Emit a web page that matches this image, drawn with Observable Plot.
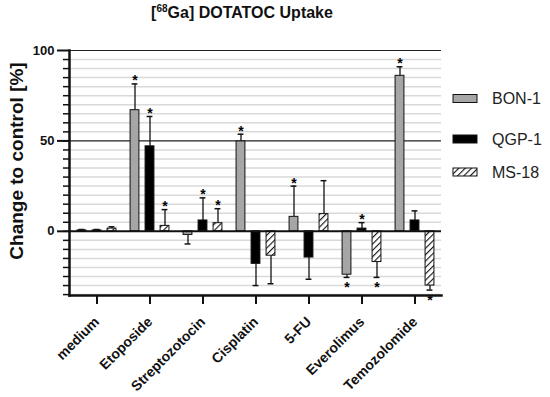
<!DOCTYPE html>
<html><head><meta charset="utf-8">
<script src="https://cdn.jsdelivr.net/npm/d3@7"></script>
<script src="https://cdn.jsdelivr.net/npm/@observablehq/plot@0.6"></script>
<style>
body{margin:0;background:#fff;font-family:"Liberation Sans",Arial,sans-serif;}
#title{height:28px;width:550px;position:relative;}
#title span{position:absolute;left:0;width:484px;text-align:center;top:3px;font-weight:bold;font-size:16px;color:#111;}
#title sup{font-size:10px;}
</style></head><body>
<div id="title"><span>[<sup>68</sup>Ga] DOTATOC Uptake</span></div>
<div id="chart"></div>
<script>
const groups = ["medium","Etoposide","Streptozotocin","Cisplatin","5-FU","Everolimus","Temozolomide"];
const seriesNames = ["BON-1","QGP-1","MS-18"];
const bon    = [0.5, 67, -2, 49.7, 8, -24, 86];
const bonErr = [0.5, 14.5, 5, 4, 17, 1.5, 5];
const bonSig = [0, 1, 0, 1, 1, 1, 1];
const qgp    = [0.5, 47, 6, -18, -14.5, 1.5, 6];
const qgpErr = [0.5, 16.5, 12.5, 12, 12, 3.3, 5.3];
const qgpSig = [0, 1, 1, 0, 0, 1, 0];
const ms     = [1.5, 3, 4.5, -13.5, 9.5, -17, -30];
const msErr  = [1, 9, 8, 15.5, 18.5, 8.5, 2.5];
const msSig  = [0, 1, 1, 0, 0, 1, 1];
const yTicksMajor = [0, 50, 100];

const seriesDefs = [
  {name: seriesNames[0], v: bon, e: bonErr, s: bonSig, fill: "#a6a6a6", dx: -15},
  {name: seriesNames[1], v: qgp, e: qgpErr, s: qgpSig, fill: "#000", dx: 0},
  {name: seriesNames[2], v: ms, e: msErr, s: msSig, fill: "url(#hatch)", dx: 15}
];

const gridVals = d3.range(-35, 100, 5).filter(d => d !== 0 && d !== 50);
const step = (550 - 69 - 109) / groups.length;
const barInset = (step - 9) / 2;
const capInset = (step - 6) / 2;

const marks = [
  Plot.ruleY(gridVals, {stroke: "#d9d9d9", strokeWidth: 1.5}),
  Plot.ruleY([50, 100], {stroke: "#222", strokeWidth: 1.2})
];
for (const s of seriesDefs) {
  const rows = groups.map((g, i) => ({g, v: s.v[i], e: s.e[i], sig: s.s[i], end: s.v[i] + (s.v[i] >= 0 ? 1 : -1) * s.e[i]}));
  marks.push(
    Plot.ruleX(rows, {x: "g", y1: "v", y2: "end", dx: s.dx, stroke: "#111", strokeWidth: 1.3}),
    Plot.tickY(rows, {x: "g", y: "end", dx: s.dx, insetLeft: capInset, insetRight: capInset, stroke: "#111", strokeWidth: 1.5}),
    Plot.barY(rows, {x: "g", y1: 0, y2: "v", dx: s.dx, insetLeft: barInset, insetRight: barInset, fill: s.fill, stroke: "#111", strokeWidth: 1}),
    Plot.text(rows.filter(r => r.sig && r.v >= 0), {x: "g", y: "end", dx: s.dx, dy: -3, text: () => "*", fontSize: 14, fontWeight: "bold", fill: "#000"}),
    Plot.text(rows.filter(r => r.sig && r.v < 0), {x: "g", y: "end", dx: s.dx, dy: 10, text: () => "*", fontSize: 14, fontWeight: "bold", fill: "#000"})
  );
}
marks.push(
  Plot.ruleY([0], {stroke: "#111", strokeWidth: 2}),
  Plot.frame({anchor: "left", stroke: "#111", strokeWidth: 2.5}),
  Plot.frame({anchor: "bottom", stroke: "#111", strokeWidth: 2.5}),
  Plot.axisY(d3.range(-35, 100, 5), {tickSize: 6, text: null, strokeWidth: 1.5, stroke: "#111"}),
  Plot.axisY(yTicksMajor, {tickSize: 12, tickPadding: 3, fontSize: 13, fontWeight: "bold", strokeWidth: 2, stroke: "#111", fill: "#111", label: null}),
  Plot.axisX({tickSize: 9, tickRotate: -45, fontSize: 14, fontWeight: "bold", tickPadding: 15, strokeWidth: 2, stroke: "#111", fill: "#111", label: null}),
  Plot.text(["Change to control [%]"], {frameAnchor: "left", textAnchor: "middle", rotate: -90, dx: -53, dy: -12, fontSize: 19, fontWeight: "bold", fill: "#111"})
);

const chart = Plot.plot({
  width: 550, height: 369,
  marginLeft: 69, marginRight: 109, marginTop: 22, marginBottom: 102,
  style: {fontFamily: "Liberation Sans, Arial, sans-serif", background: "#fff", overflow: "visible"},
  x: {type: "band", domain: groups, paddingInner: 0, paddingOuter: 0, label: null},
  y: {domain: [-35.5, 100], label: null},
  marks
});

const svg = d3.select(chart);
const defs = svg.insert("defs", ":first-child");
const pat = defs.append("pattern").attr("id", "hatch").attr("patternUnits", "userSpaceOnUse")
  .attr("width", 4.5).attr("height", 4.5).attr("patternTransform", "rotate(45)");
pat.append("rect").attr("width", 4.5).attr("height", 4.5).attr("fill", "#fff");
pat.append("line").attr("x1", 0).attr("y1", 0).attr("x2", 0).attr("y2", 4.5).attr("stroke", "#111").attr("stroke-width", 2.2);

const legendY = [70.5, 111, 144];
const lg = svg.append("g").attr("text-anchor", "start");
seriesDefs.forEach((s, i) => {
  lg.append("rect").attr("x", 453).attr("y", legendY[i] - 4).attr("width", 24).attr("height", 8)
    .attr("fill", s.fill).attr("stroke", "#111").attr("stroke-width", 1);
  lg.append("text").attr("x", 492).attr("y", legendY[i]).attr("dy", "0.35em")
    .attr("font-size", 16).attr("fill", "#222").text(s.name);
});

document.getElementById("chart").appendChild(chart);
</script>
</body></html>
